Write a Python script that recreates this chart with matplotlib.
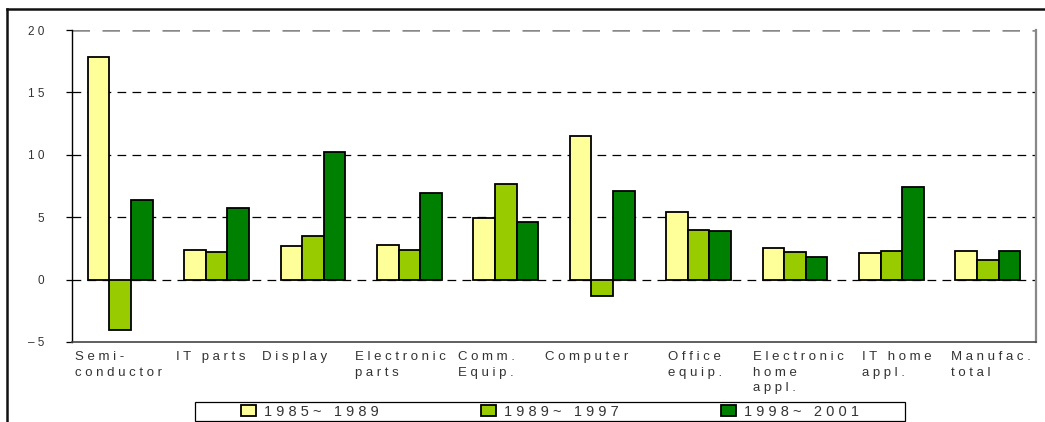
import numpy as np
import matplotlib
matplotlib.use("Agg")
import matplotlib.pyplot as plt
from matplotlib.patches import Rectangle, Patch
from matplotlib.lines import Line2D
from matplotlib.ticker import FuncFormatter

# Average annual growth by industry and period
categories = ["Semi-\nconductor", "IT parts", "Display", "Electronic\nparts",
              "Comm.\nEquip.", "Computer", "Office\nequip.",
              "Electronic\nhome\nappl.", "IT home\nappl.", "Manufac.\ntotal"]
series_names = ["1985~ 1989", "1989~ 1997", "1998~ 2001"]
growth_85_89 = [17.8, 2.4, 2.7, 2.8, 4.9, 11.5, 5.4, 2.5, 2.1, 2.3]
growth_89_97 = [-4.0, 2.2, 3.5, 2.4, 7.7, -1.3, 4.0, 2.2, 2.3, 1.6]
growth_98_01 = [6.4, 5.7, 10.2, 6.9, 4.6, 7.1, 3.9, 1.8, 7.4, 2.3]
y_ticks = [-5, 0, 5, 10, 15, 20]

colors = ["#FFFF99", "#99CC00", "#008000"]
text_color = "#333333"
plt.rcParams["font.family"] = ["Liberation Sans", "DejaVu Sans"]


def spaced(s):
    # letter-spaced rendering, line by line
    return "\n".join(" ".join(line) for line in s.split("\n"))


fig = plt.figure(figsize=(10.45, 4.22), dpi=100)
ax = fig.add_axes([72 / 1045, 1 - 342 / 422, (1036 - 72) / 1045, (342 - 30) / 422])

x = np.arange(len(categories))
w = 0.224
for k, vals in enumerate([growth_85_89, growth_89_97, growth_98_01]):
    ax.bar(x + (k - 1) * w, vals, width=w, color=colors[k], edgecolor="black",
           linewidth=1.3, zorder=3, label=series_names[k])

ax.set_xlim(-0.5, len(categories) - 0.5)
ax.set_ylim(-5, 20)
ax.set_yticks(y_ticks)
ax.yaxis.set_major_formatter(FuncFormatter(lambda v, p: spaced(str(int(v))).replace("-", "–")))
for t in [0, 5, 10, 15]:
    ax.axhline(t, color="black", linestyle=(0, (7, 5)), linewidth=0.9, zorder=1)
ax.axhline(20, color="#888888", linestyle=(0, (7, 5)), linewidth=1.8, zorder=1)

ax.set_xticks([])
ax.tick_params(axis="y", direction="out", length=4, width=0.9, color="black",
               labelsize=8.5, labelcolor=text_color, pad=16)
ax.spines["left"].set_color("black")
ax.spines["left"].set_linewidth(1.0)
ax.spines["bottom"].set_color("#444444")
ax.spines["bottom"].set_linewidth(1.2)
ax.spines["right"].set_color("#888888")
ax.spines["right"].set_linewidth(1.6)
ax.spines["top"].set_visible(False)

# category labels, left-aligned under each group
label_offsets = [-0.469, -0.421, -0.529, -0.564, -0.496, -0.593, -0.317, -0.436, -0.305, -0.382]
for i, (lab, off) in enumerate(zip(categories, label_offsets)):
    ax.text(i + off, -5.7, spaced(lab), ha="left", va="top", fontsize=9.5,
            color=text_color, linespacing=1.42, transform=ax.transData)

# legend row in its own frame
fig.add_artist(Rectangle((195 / 1045, 1 - 421 / 422), 710 / 1045, 19 / 422,
                         transform=fig.transFigure, facecolor="white",
                         edgecolor="black", linewidth=0.9))
handles = [Patch(facecolor=c, edgecolor="black", linewidth=1.3) for c in colors]
fig.legend(handles, [spaced(s) for s in series_names], loc="center",
           bbox_to_anchor=(550 / 1045, 1 - 411.5 / 422), ncol=3, frameon=False,
           fontsize=10.5, handlelength=1.0, handleheight=0.7, handletextpad=0.55,
           columnspacing=7.05, borderpad=0, labelcolor=text_color)

# outer frame
fig.add_artist(Line2D([7 / 1045, 1], [1 - 9 / 422, 1 - 9 / 422],
                      transform=fig.transFigure, color="#111111", linewidth=1.8))
fig.add_artist(Line2D([7 / 1045, 7 / 1045], [0, 1 - 9 / 422],
                      transform=fig.transFigure, color="#111111", linewidth=1.8))

fig.savefig("out.png", dpi=100)
